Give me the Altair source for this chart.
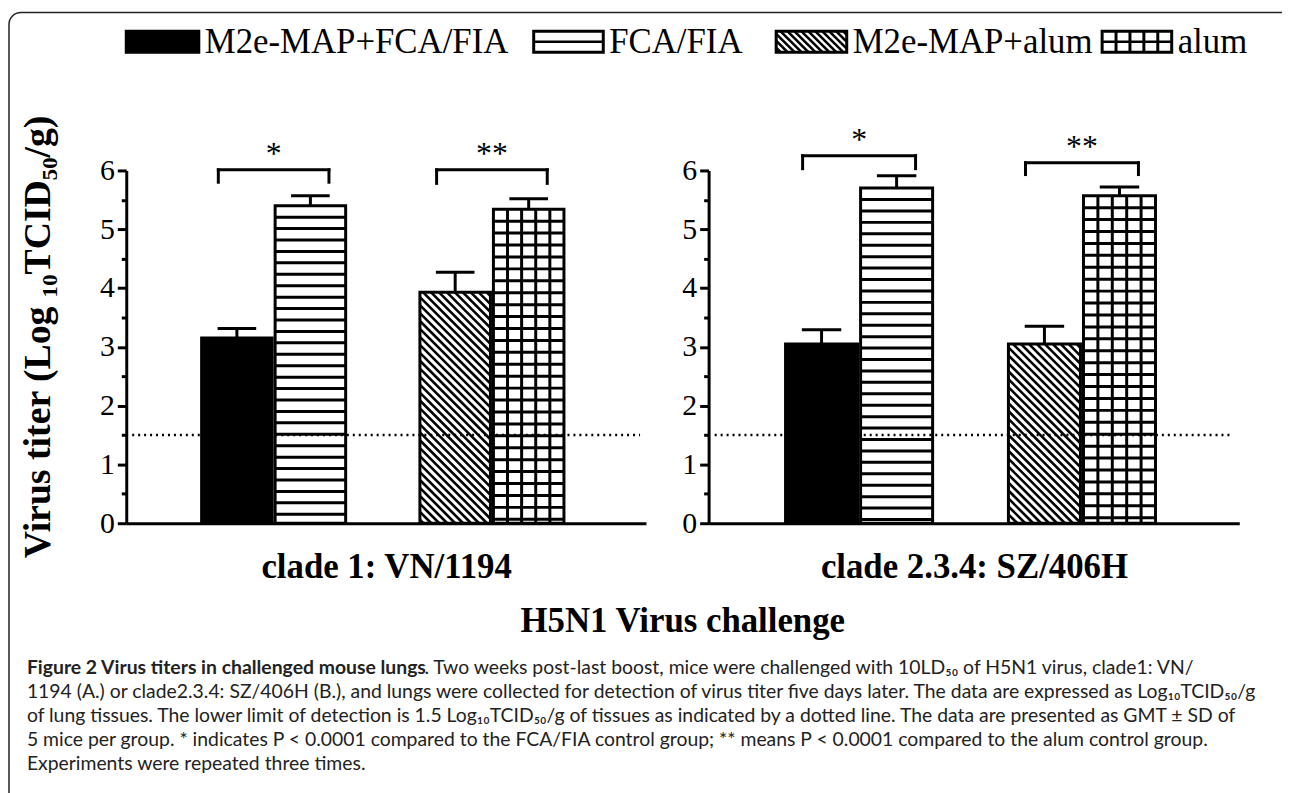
import altair as alt
import pandas as pd

# ---------------- values ----------------
treatments = ["M2e-MAP+FCA/FIA", "FCA/FIA", "M2e-MAP+alum", "alum"]
clades = ["clade 1: VN/1194", "clade 2.3.4: SZ/406H"]
titer_clade1 = [3.15, 5.40, 3.93, 5.34]
sd_clade1 = [0.16, 0.17, 0.34, 0.18]
titer_clade2 = [3.05, 5.70, 3.05, 5.57]
sd_clade2 = [0.24, 0.21, 0.30, 0.15]
sig_labels = ["*", "**"]
bracket_top_clade1 = [6.01, 6.01]
bracket_leg_clade1 = [5.80, 5.78]
bracket_top_clade2 = [6.25, 6.13]
bracket_leg_clade2 = [6.03, 5.93]
detection_limit = [1.5]
y_ticks = [0, 0.5, 1, 1.5, 2, 2.5, 3, 3.5, 4, 4.5, 5, 5.5, 6]
y_title = "Virus titer (Log \u2081\u2080TCID\u2085\u2080/g)"
x_title = "H5N1 Virus challenge"
caption_bold = "Figure 2 Virus titers in challenged mouse lungs"
caption_first = (". Two weeks post-last boost, mice were challenged with 10LD\u2085\u2080 of H5N1 virus, clade1: VN/")
caption_lines = [
    "1194 (A.) or clade2.3.4: SZ/406H (B.), and lungs were collected for detection of virus titer five days later. The data are expressed as Log\u2081\u2080TCID\u2085\u2080/g",
    "of lung tissues. The lower limit of detection is 1.5 Log\u2081\u2080TCID\u2085\u2080/g of tissues as indicated by a dotted line. The data are presented as GMT \u00b1 SD of",
    "5 mice per group. * indicates P < 0.0001 compared to the FCA/FIA control group; ** means P < 0.0001 compared to the alum control group.",
    "Experiments were repeated three times.",
]

# ---------------- styles & layout ----------------
FILLS = ["black", "white", "white", "white"]
PATTERNS = ["solid", "hstripe", "diag", "grid"]
SERIF = "Liberation Serif"
SANS = "Lato"
W, H = 1282, 785
Y_DOM = [0, 6]
Y_RNG = [516, 161]
X_DOM = [0, 7]
X_RNG = [[119, 642], [705, 1239]]
BAR_W = 0.95
FIRST_C, PAIR_STEP, BAR_STEP = 1.49, 2.94, 0.99
CAP_HALF = 0.26
OVERHANG = 0.25
STAR_GAP = 0.27
DOT_X = [0.08, 6.92]

LEG_X = [119, 529, 773, 1101]
LEG_W = [73, 70, 71, 70]
LEG_Y = [21, 42]
LEG_FONT = 35
LEG_GAP = 6

CAP_X = 19
CAP_Y0 = 662
CAP_LH = 24
CAP_REST_X = 419
CAP_FONT = 19.5


def seg_hstripe(L, R, T, B, step):
    out, y = [], T + step
    while y < B - 2:
        out.append((L, R, y, y))
        y += step
    return out


def seg_vlines(L, R, T, B, n):
    return [(L + j * (R - L) / n, L + j * (R - L) / n, T, B) for j in range(1, n)]


def seg_diag(L, R, T, B, step):
    out, k = [], T - R + step / 2
    while k < B - L:
        xs, xe = max(L, T - k), min(R, B - k)
        if xe - xs > 0.5:
            out.append((xs, xe, xs + k, xe + k))
        k += step
    return out


def pattern_segments(pat, L, R, T, B, legend=False):
    segs = []
    if pat == "hstripe":
        if legend:
            segs += [(L, R, (T + B) / 2, (T + B) / 2, 2.5)]
        else:
            segs += [s + (3.0,) for s in seg_hstripe(L, R, T, B, 11.5)]
    elif pat == "grid":
        segs += [s + (3.0,) for s in seg_vlines(L, R, T, B, 5)]
        if legend:
            segs += [(L, R, (T + B) / 2, (T + B) / 2, 2.5)]
        else:
            segs += [s + (3.0,) for s in seg_hstripe(L, R, T, B, 12.0)]
    elif pat == "diag":
        segs += [s + (2.6,) for s in seg_diag(L, R, T, B, 8.0 if not legend else 7.0)]
    return segs


def to_px(v, dom, rng):
    return rng[0] + (v - dom[0]) / (dom[1] - dom[0]) * (rng[1] - rng[0])


def to_val(p, dom, rng):
    return dom[0] + (p - rng[0]) / (rng[1] - rng[0]) * (dom[1] - dom[0])


def panel(ci, titers, sds, tops, legs, show_ytitle):
    xr = X_RNG[ci]
    xs = alt.Scale(domain=X_DOM, range=xr, nice=False, zero=False)
    ys = alt.Scale(domain=Y_DOM, range=Y_RNG, nice=False, zero=False)

    rows, hseg = [], []
    for i, t in enumerate(treatments):
        c = FIRST_C + PAIR_STEP * (i // 2) + BAR_STEP * (i % 2)
        rows.append(dict(treatment=t, x0=c - BAR_W / 2, x1=c + BAR_W / 2, xc=c,
                         base=0.0, titer=titers[i], top=titers[i] + sds[i],
                         c0=c - CAP_HALF, c1=c + CAP_HALF, fill=FILLS[i]))
        L, R = to_px(c - BAR_W / 2, X_DOM, xr), to_px(c + BAR_W / 2, X_DOM, xr)
        T, B = to_px(titers[i], Y_DOM, Y_RNG), to_px(0, Y_DOM, Y_RNG)
        for (a, b, y1, y2, w) in pattern_segments(PATTERNS[i], L, R, T, B):
            hseg.append(dict(x=to_val(a, X_DOM, xr), x2=to_val(b, X_DOM, xr),
                             y=to_val(y1, Y_DOM, Y_RNG), y2=to_val(y2, Y_DOM, Y_RNG), w=w))
    bars = pd.DataFrame(rows)
    hdf = pd.DataFrame(hseg)

    br, brl = [], []
    for p in range(2):
        cl = FIRST_C + PAIR_STEP * p
        cr = cl + BAR_STEP
        xl, xrr = cl - OVERHANG, cr + OVERHANG
        br.append(dict(xl=xl, xr=xrr, xm=(xl + xrr) / 2, top=tops[p], star=tops[p] + STAR_GAP,
                       label=sig_labels[p]))
        brl.append(dict(x=xl, top=tops[p], leg=legs[p]))
        brl.append(dict(x=xrr, top=tops[p], leg=legs[p]))
    brdf = pd.DataFrame(br)
    bldf = pd.DataFrame(brl)

    yaxis_kw = dict(
        orient="left", values=y_ticks, offset=-xr[0], grid=False,
        labelExpr="datum.value % 1 === 0 ? '' + datum.value : ''", labelOverlap=False,
        tickSize={"condition": {"test": "datum.value % 1 === 0", "value": 9}, "value": 5},
        tickWidth=3, tickColor="black", domainWidth=3, domainColor="black",
        labelFont=SERIF, labelFontSize=30, labelColor="black", labelPadding=3,
    )
    if show_ytitle:
        yaxis_kw.update(title=y_title, titleFont=SERIF, titleFontSize=38, titleFontWeight="bold",
                        titleColor="black", titleAngle=270, titleAlign="center",
                        titleBaseline="middle", titleX=-88, titleY=328)
    else:
        yaxis_kw.update(title=None)
    yaxis = alt.Axis(**yaxis_kw)
    xaxis = alt.Axis(orient="bottom", labels=False, ticks=False, grid=False, domainWidth=3,
                     domainColor="black", offset=Y_RNG[0] - H, title=clades[ci], titleFont=SERIF,
                     titleFontSize=35, titleFontWeight="bold", titleColor="black",
                     titleBaseline="middle", titleY=44)

    def X(f):
        return alt.X(f, scale=xs, axis=xaxis)

    def Y(f):
        return alt.Y(f, scale=ys, axis=yaxis)

    dotted = alt.Chart(pd.DataFrame({"y": detection_limit, "a": [DOT_X[0]], "b": [DOT_X[1]]})).mark_rule(
        color="black", strokeWidth=2.5, strokeDash=[2, 4]).encode(
        x=X("a:Q"), x2="b", y=Y("y:Q"))
    fill = alt.Chart(bars).mark_rect().encode(
        x=X("x0:Q"), x2="x1", y=Y("base:Q"), y2="titer",
        fill=alt.Fill("fill:N", scale=None))
    hatch = alt.Chart(hdf).mark_rule(color="black").encode(
        x=X("x:Q"), x2="x2", y=Y("y:Q"), y2="y2",
        strokeWidth=alt.StrokeWidth("w:Q", scale=None))
    outline = alt.Chart(bars).mark_rect(fill="white", fillOpacity=0, stroke="black", strokeWidth=3).encode(
        x=X("x0:Q"), x2="x1", y=Y("base:Q"), y2="titer")
    err_v = alt.Chart(bars).mark_rule(color="black", strokeWidth=3).encode(
        x=X("xc:Q"), y=Y("titer:Q"), y2="top")
    err_c = alt.Chart(bars).mark_rule(color="black", strokeWidth=3).encode(
        x=X("c0:Q"), x2="c1", y=Y("top:Q"))
    br_h = alt.Chart(brdf).mark_rule(color="black", strokeWidth=3, strokeCap="square").encode(
        x=X("xl:Q"), x2="xr", y=Y("top:Q"))
    br_l = alt.Chart(bldf).mark_rule(color="black", strokeWidth=3, strokeCap="square").encode(
        x=X("x:Q"), y=Y("leg:Q"), y2="top")
    stars = alt.Chart(brdf).mark_text(font=SERIF, fontSize=32, color="black", baseline="middle").encode(
        x=X("xm:Q"), y=Y("star:Q"), text="label:N")
    return alt.layer(fill, dotted, hatch, outline, err_v, err_c, br_h, br_l, stars)


left = panel(0, titer_clade1, sd_clade1, bracket_top_clade1, bracket_leg_clade1, True)
right = panel(1, titer_clade2, sd_clade2, bracket_top_clade2, bracket_leg_clade2, False)

# ---------------- legend (drawn by hand because of the hatch fills) ----------------
lrows, lseg = [], []
for i, t in enumerate(treatments):
    L, R = LEG_X[i], LEG_X[i] + LEG_W[i]
    lrows.append(dict(x=L, x2=R, y=LEG_Y[0], y2=LEG_Y[1], fill=FILLS[i], label=t,
                      tx=R + LEG_GAP, ty=(LEG_Y[0] + LEG_Y[1]) / 2))
    for (a, b, y1, y2, w) in pattern_segments(PATTERNS[i], L, R, LEG_Y[0], LEG_Y[1], legend=True):
        lseg.append(dict(x=a, x2=b, y=y1, y2=y2, w=w))
ldf = pd.DataFrame(lrows)
lsdf = pd.DataFrame(lseg)

leg_fill = alt.Chart(ldf).mark_rect().encode(
    x=alt.X("x:Q", scale=None), x2="x2", y=alt.Y("y:Q", scale=None), y2="y2",
    fill=alt.Fill("fill:N", scale=None))
leg_hatch = alt.Chart(lsdf).mark_rule(color="black").encode(
    x=alt.X("x:Q", scale=None), x2="x2", y=alt.Y("y:Q", scale=None), y2="y2",
    strokeWidth=alt.StrokeWidth("w:Q", scale=None))
leg_out = alt.Chart(ldf).mark_rect(fill="white", fillOpacity=0, stroke="black", strokeWidth=3).encode(
    x=alt.X("x:Q", scale=None), x2="x2", y=alt.Y("y:Q", scale=None), y2="y2")
leg_text = alt.Chart(ldf).mark_text(font=SERIF, fontSize=LEG_FONT, color="black", align="left",
                                    baseline="middle").encode(
    x=alt.X("tx:Q", scale=None), y=alt.Y("ty:Q", scale=None), text="label:N")

# ---------------- texts ----------------
xtitle = alt.Chart(pd.DataFrame({"t": [x_title]})).mark_text(
    font=SERIF, fontSize=35, fontWeight="bold", color="black", align="center", baseline="middle").encode(
    x=alt.value(679), y=alt.value(614), text="t:N")
cap_b = alt.Chart(pd.DataFrame({"t": [caption_bold]})).mark_text(
    font=SANS, fontSize=CAP_FONT, fontWeight="bold", color="#222", align="left", baseline="middle").encode(
    x=alt.value(CAP_X), y=alt.value(CAP_Y0), text="t:N")
cap_1 = alt.Chart(pd.DataFrame({"t": [caption_first]})).mark_text(
    font=SANS, fontSize=CAP_FONT, color="#222", align="left", baseline="middle").encode(
    x=alt.value(CAP_REST_X), y=alt.value(CAP_Y0), text="t:N")
cdf = pd.DataFrame({"t": caption_lines,
                    "y": [CAP_Y0 + CAP_LH * (i + 1) for i in range(len(caption_lines))]})
cap_r = alt.Chart(cdf).mark_text(
    font=SANS, fontSize=CAP_FONT, color="#222", align="left", baseline="middle").encode(
    x=alt.value(CAP_X), y=alt.Y("y:Q", scale=None), text="t:N")

frame = alt.Chart(pd.DataFrame({"a": [0]})).mark_rect(
    fill="white", fillOpacity=0, stroke="#222", strokeWidth=1.5, cornerRadius=12).encode(
    x=alt.value(1), x2=alt.value(1292), y=alt.value(2), y2=alt.value(800))

chart = alt.layer(
    frame, leg_fill, leg_hatch, leg_out, leg_text, left, right, xtitle, cap_b, cap_1, cap_r
).resolve_scale(x="independent", y="independent").properties(
    width=W, height=H, padding=0, autosize=alt.AutoSizeParams(type="none")
).configure_view(stroke=None)

chart.save("out.html", embed_options={"renderer": "svg", "actions": False})
